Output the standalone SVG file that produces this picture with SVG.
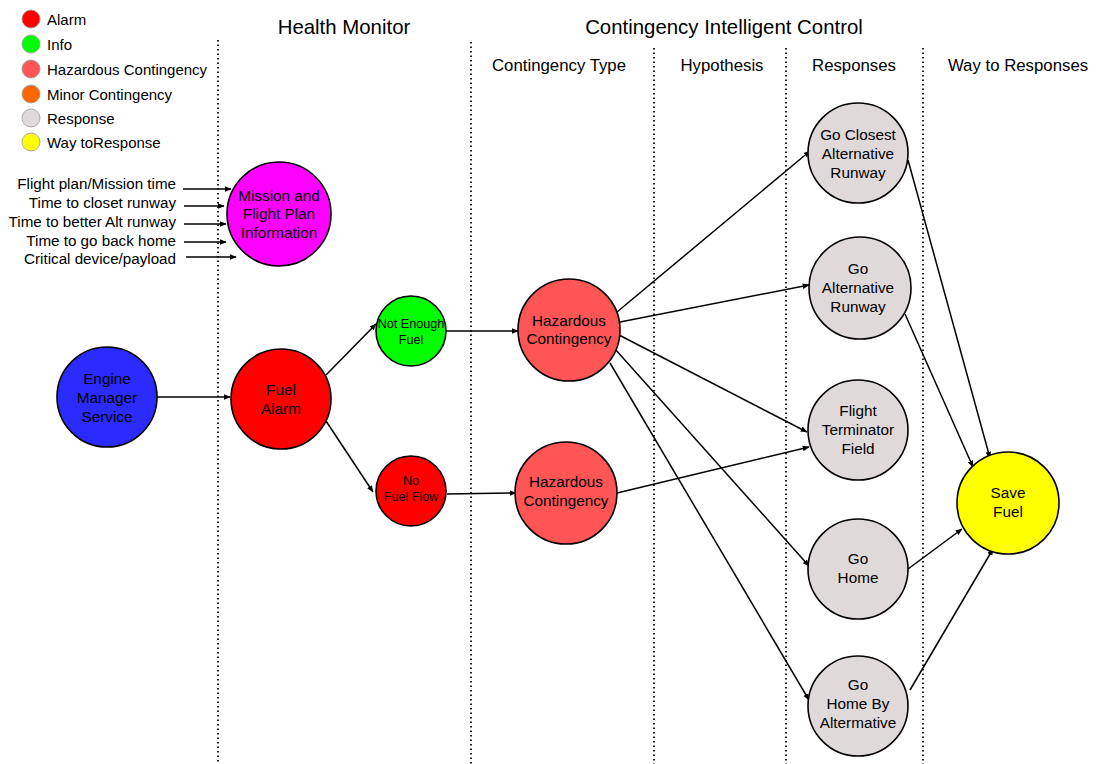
<svg xmlns="http://www.w3.org/2000/svg" width="1096" height="764" viewBox="0 0 1096 764">
  <defs>
    <marker id="arrow" viewBox="0 0 10 10" refX="9" refY="5" markerWidth="7" markerHeight="7" markerUnits="userSpaceOnUse" orient="auto">
      <path d="M0,1 L10,5 L0,9 z" fill="#000"/>
    </marker>
    <style>
      text { font-family: "Liberation Sans", Arial, sans-serif; fill: #000; }
      .node circle { stroke: #000; stroke-width: 1.6; }
      .node text { font-size: 15.3px; text-anchor: middle; }
      .node text.small { font-size: 12.6px; }
      .divider { stroke: #222; stroke-width: 2; stroke-dasharray: 1.5 3; fill: none; }
      .edges line { stroke: #000; stroke-width: 1.5; marker-end: url(#arrow); }
      .legend circle { stroke: #999; stroke-width: 0.8; }
      .legend text { font-size: 15px; }
      .title { font-size: 20.4px; text-anchor: middle; }
      .sub { font-size: 16.8px; text-anchor: middle; }
      .input { font-size: 15.2px; text-anchor: end; }
      .alarm { fill: #ff0000; }
      .info { fill: #00ff00; }
      .hazard { fill: #ff5555; }
      .minor { fill: #ff6600; }
      .response { fill: #e0d9d9; }
      .way { fill: #ffff00; }
    </style>
  </defs>

  <rect width="1096" height="764" fill="#fff"/>

  <!-- legend -->
  <g id="legend" class="legend">
    <circle cx="31" cy="19" r="9" class="alarm"/><text x="47" y="25">Alarm</text>
    <circle cx="31" cy="44" r="9" class="info"/><text x="47" y="50">Info</text>
    <circle cx="31" cy="69" r="9" class="hazard"/><text x="47" y="75">Hazardous Contingency</text>
    <circle cx="31" cy="94" r="9" class="minor"/><text x="47" y="100">Minor Contingency</text>
    <circle cx="31" cy="118" r="9" class="response"/><text x="47" y="124">Response</text>
    <circle cx="31" cy="142" r="9" class="way"/><text x="47" y="148">Way toResponse</text>
  </g>

  <!-- column dividers -->
  <g id="dividers">
    <line class="divider" x1="218" y1="40" x2="218" y2="764"/>
    <line class="divider" x1="471" y1="42" x2="471" y2="764"/>
    <line class="divider" x1="654" y1="48" x2="654" y2="764"/>
    <line class="divider" x1="786" y1="48" x2="786" y2="764"/>
    <line class="divider" x1="923" y1="48" x2="923" y2="764"/>
  </g>

  <!-- column headings -->
  <g id="headings">
    <text class="title" x="344" y="34">Health Monitor</text>
    <text class="title" x="724" y="34">Contingency Intelligent Control</text>
    <text class="sub" x="559" y="71">Contingency Type</text>
    <text class="sub" x="722" y="71">Hypothesis</text>
    <text class="sub" x="854" y="71">Responses</text>
    <text class="sub" x="1018" y="71">Way to Responses</text>
  </g>

  <!-- mission inputs -->
  <g id="inputs">
    <text class="input" x="176" y="189">Flight plan/Mission time</text>
    <text class="input" x="176" y="208">Time to closet runway</text>
    <text class="input" x="176" y="227">Time to better Alt runway</text>
    <text class="input" x="176" y="246">Time to go back home</text>
    <text class="input" x="176" y="264">Critical device/payload</text>
  </g>

  <!-- connectors -->
  <g id="connectors" class="edges">
    <line x1="183" y1="189" x2="231" y2="189"/>
    <line x1="184" y1="206" x2="224" y2="206"/>
    <line x1="184" y1="224" x2="226" y2="224"/>
    <line x1="184" y1="242" x2="226" y2="242"/>
    <line x1="186" y1="257" x2="236" y2="257"/>

    <line x1="157" y1="397" x2="230" y2="397"/>
    <line x1="326" y1="375" x2="376" y2="324"/>
    <line x1="326" y1="421" x2="373" y2="492"/>
    <line x1="446" y1="331" x2="518" y2="331"/>
    <line x1="447" y1="494" x2="516" y2="493"/>

    <line x1="617" y1="312" x2="810" y2="151"/>
    <line x1="620" y1="322" x2="809" y2="285"/>
    <line x1="619" y1="335" x2="807" y2="432"/>
    <line x1="615" y1="349" x2="809" y2="566"/>
    <line x1="610" y1="363" x2="809" y2="700"/>
    <line x1="617" y1="493" x2="809" y2="447"/>

    <line x1="908" y1="160" x2="990" y2="458"/>
    <line x1="905" y1="314" x2="973" y2="467"/>
    <line x1="908" y1="569" x2="962" y2="529"/>
    <line x1="910" y1="690" x2="993" y2="549"/>
  </g>

  <!-- nodes -->
  <g id="mission" class="node">
    <circle cx="279" cy="214" r="52" fill="#ff00ff"/>
    <text x="279" y="201">Mission and</text>
    <text x="279" y="219">Flight Plan</text>
    <text x="279" y="238">Information</text>
  </g>
  <g id="engine" class="node">
    <circle cx="107" cy="397" r="50" fill="#2b2bff"/>
    <text x="107" y="384">Engine</text>
    <text x="107" y="403">Manager</text>
    <text x="107" y="422">Service</text>
  </g>
  <g id="fuel-alarm" class="node">
    <circle cx="281" cy="399" r="50" class="alarm"/>
    <text x="281" y="395">Fuel</text>
    <text x="281" y="414">Alarm</text>
  </g>
  <g id="not-enough-fuel" class="node">
    <circle cx="411" cy="331" r="35" class="info"/>
    <text class="small" x="411" y="328">Not Enough</text>
    <text class="small" x="411" y="344">Fuel</text>
  </g>
  <g id="no-fuel-flow" class="node">
    <circle cx="411" cy="491" r="35" class="alarm"/>
    <text class="small" x="411" y="485">No</text>
    <text class="small" x="411" y="501">Fuel Flow</text>
  </g>
  <g id="hazard-1" class="node">
    <circle cx="569" cy="330" r="51" class="hazard"/>
    <text x="569" y="326">Hazardous</text>
    <text x="569" y="344">Contingency</text>
  </g>
  <g id="hazard-2" class="node">
    <circle cx="566" cy="493" r="51" class="hazard"/>
    <text x="566" y="487">Hazardous</text>
    <text x="566" y="506">Contingency</text>
  </g>
  <g id="go-closest" class="node">
    <circle cx="858" cy="153" r="50" class="response"/>
    <text x="858" y="140">Go Closest</text>
    <text x="858" y="159">Alternative</text>
    <text x="858" y="178">Runway</text>
  </g>
  <g id="go-alternative" class="node">
    <circle cx="860" cy="288" r="51" class="response"/>
    <text x="858" y="274">Go</text>
    <text x="858" y="293">Alternative</text>
    <text x="858" y="312">Runway</text>
  </g>
  <g id="flight-terminator" class="node">
    <circle cx="858" cy="430" r="50" class="response"/>
    <text x="858" y="416">Flight</text>
    <text x="858" y="435">Terminator</text>
    <text x="858" y="454">Field</text>
  </g>
  <g id="go-home" class="node">
    <circle cx="858" cy="569" r="50" class="response"/>
    <text x="858" y="564">Go</text>
    <text x="858" y="583">Home</text>
  </g>
  <g id="go-home-alt" class="node">
    <circle cx="858" cy="706" r="50" class="response"/>
    <text x="858" y="690">Go</text>
    <text x="858" y="709">Home By</text>
    <text x="858" y="728">Altermative</text>
  </g>
  <g id="save-fuel" class="node">
    <circle cx="1008" cy="503" r="51" class="way"/>
    <text x="1008" y="498">Save</text>
    <text x="1008" y="517">Fuel</text>
  </g>
</svg>
